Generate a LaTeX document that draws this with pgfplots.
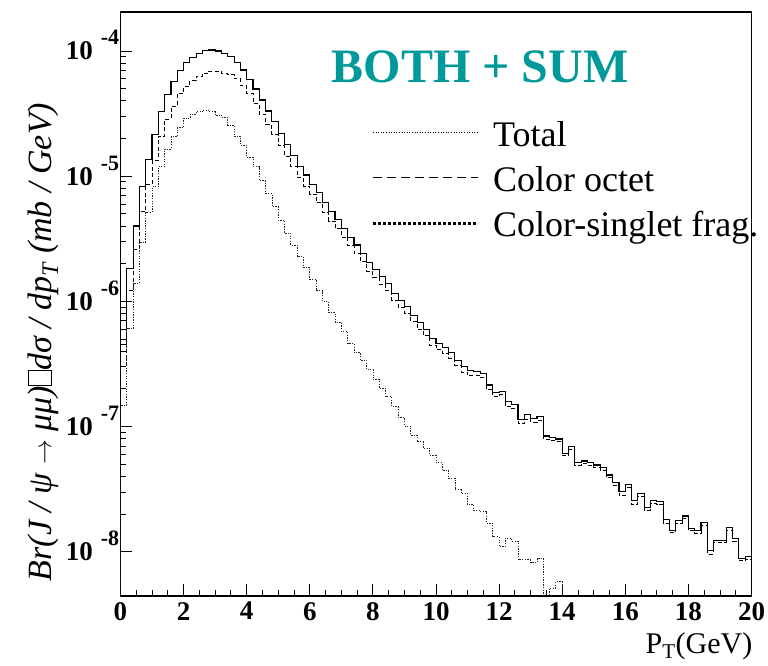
\documentclass[border=0pt]{standalone}
\usepackage{fontspec}
\setmainfont{Liberation Serif}
\usepackage{pgfplots}
\usepackage{pgfplotstable}
\pgfplotsset{compat=1.18}
\definecolor{rootteal}{RGB}{0,153,153}
\newcommand{\tenexp}[1]{\textbf{10}\rlap{\smash{\hspace{8pt}\raisebox{15pt}{\fontsize{22}{22}\selectfont\textbf{#1}}}}}
\newcommand{\boxchar}{{\setlength\fboxsep{0pt}\setlength\fboxrule{0.6pt}\fbox{\rule{0pt}{0.68em}\rule{0.42em}{0pt}}}}
\pgfplotstableread{
x s o d
0 1e-10 1e-10 1e-10
0 4.5e-7 3.0e-7 1.48e-7
0.2 1.82e-6 1.217e-6 6.03e-7
0.4 4.00e-6 2.60e-6 1.40e-6
0.6 8.24e-6 5.26e-6 2.98e-6
0.8 1.371e-5 8.59e-6 5.12e-6
1.0 2.163e-5 1.339e-5 8.24e-6
1.2 3.273e-5 2.082e-5 1.191e-5
1.4 4.508e-5 2.86e-5 1.648e-5
1.6 5.689e-5 3.62e-5 2.07e-5
1.8 7.047e-5 4.61e-5 2.44e-5
2.0 8.07e-5 5.17e-5 2.90e-5
2.2 8.91e-5 5.77e-5 3.14e-5
2.4 9.57e-5 6.30e-5 3.27e-5
2.6 1.005e-4 6.67e-5 3.38e-5
2.8 1.019e-4 6.92e-5 3.27e-5
3.0 1.000e-4 6.92e-5 3.08e-5
3.2 9.57e-5 6.62e-5 2.95e-5
3.4 9.02e-5 6.46e-5 2.56e-5
3.6 8.11e-5 6.02e-5 2.09e-5
3.8 7.05e-5 5.28e-5 1.77e-5
4.0 5.97e-5 4.55e-5 1.416e-5
4.2 4.97e-5 3.78e-5 1.191e-5
4.4 4.06e-5 3.14e-5 9.20e-6
4.6 3.32e-5 2.59e-5 7.29e-6
4.8 2.72e-5 2.15e-5 5.70e-6
5.0 2.20e-5 1.753e-5 4.47e-6
5.2 1.80e-5 1.45e-5 3.50e-6
5.4 1.476e-5 1.194e-5 2.82e-6
5.6 1.205e-5 9.77e-6 2.28e-6
5.8 1.023e-5 8.36e-6 1.87e-6
6.0 8.65e-6 7.15e-6 1.50e-6
6.2 7.38e-6 6.16e-6 1.22e-6
6.4 6.14e-6 5.15e-6 9.95e-7
6.6 5.20e-6 4.39e-6 8.13e-7
6.8 4.53e-6 3.85e-6 6.81e-7
7.0 3.84e-6 3.27e-6 5.73e-7
7.2 3.25e-6 2.79e-6 4.62e-7
7.4 2.82e-6 2.43e-6 3.89e-7
7.6 2.42e-6 2.08e-6 3.40e-7
7.8 2.04e-6 1.75e-6 2.86e-7
8.0 1.80e-6 1.56e-6 2.36e-7
8.2 1.574e-6 1.37e-6 2.02e-7
8.4 1.396e-6 1.22e-6 1.73e-7
8.6 1.161e-6 1.02e-6 1.44e-7
8.8 1.014e-6 8.95e-7 1.19e-7
9.0 9.08e-7 8.07e-7 1.01e-7
9.2 7.78e-7 6.92e-7 8.57e-8
9.4 6.76e-7 6.00e-7 7.57e-8
9.6 5.98e-7 5.31e-7 6.71e-8
9.8 5.07e-7 4.48e-7 5.89e-8
10.0 4.62e-7 4.11e-7 5.13e-8
10.2 4.30e-7 3.85e-7 4.47e-8
10.4 3.89e-7 3.50e-7 3.86e-8
10.6 3.39e-7 3.08e-7 3.12e-8
10.8 3.02e-7 2.73e-7 2.93e-8
11.0 2.79e-7 2.55e-7 2.37e-8
11.2 2.75e-7 2.54e-7 2.13e-8
11.4 2.67e-7 2.46e-7 2.09e-8
11.6 2.15e-7 1.98e-7 1.69e-8
11.8 1.87e-7 1.74e-7 1.32e-8
12.0 1.90e-7 1.79e-7 1.10e-8
12.2 1.58e-7 1.45e-7 1.28e-8
12.4 1.51e-7 1.39e-7 1.21e-8
12.6 1.14e-7 1.05e-7 8.61e-9
12.8 1.24e-7 1.15e-7 8.61e-9
13.0 1.16e-7 1.08e-7 8.18e-9
13.2 1.20e-7 1.11e-7 8.87e-9
13.4 8.41e-8 7.9e-8 3.5e-9
13.6 8.15e-8 7.8e-8 5.13e-9
13.8 7.96e-8 7.6e-8 5.75e-9
14.0 6.12e-8 5.85e-8 1e-10
14.2 6.92e-8 6.6e-8 1e-10
14.4 5.15e-8 4.9e-8 1e-10
14.6 5.31e-8 5.05e-8 1e-10
14.8 5.15e-8 4.9e-8 1e-10
15.0 4.93e-8 4.7e-8 1e-10
15.2 4.73e-8 4.5e-8 1e-10
15.4 4.10e-8 3.9e-8 1e-10
15.6 3.56e-8 3.4e-8 1e-10
15.8 3.02e-8 2.8e-8 1e-10
16.0 3.42e-8 3.25e-8 1e-10
16.2 2.56e-8 2.38e-8 1e-10
16.4 2.90e-8 2.76e-8 1e-10
16.6 2.26e-8 2.15e-8 1e-10
16.8 2.56e-8 2.43e-8 1e-10
17.0 2.51e-8 2.4e-8 1e-10
17.2 1.82e-8 1.68e-8 1e-10
17.4 1.49e-8 1.42e-8 1e-10
17.6 1.77e-8 1.68e-8 1e-10
17.8 1.93e-8 1.83e-8 1e-10
18.0 1.54e-8 1.47e-8 1e-10
18.2 1.48e-8 1.41e-8 1e-10
18.4 1.71e-8 1.63e-8 1e-10
18.6 1.03e-8 9.6e-9 1e-10
18.8 1.24e-8 1.18e-8 1e-10
19.0 1.24e-8 1.18e-8 1e-10
19.2 1.56e-8 1.49e-8 1e-10
19.4 1.28e-8 1.21e-8 1e-10
19.6 8.87e-9 8.45e-9 1e-10
19.8 9.14e-9 8.7e-9 1e-10
20 9.14e-9 8.7e-9 1e-10
20 1e-10 1e-10 1e-10
}\histdata
\begin{document}
\begin{tikzpicture}
\begin{axis}[
  scale only axis, width=631pt, height=584pt,
  xmin=0, xmax=20, ymode=log, ymin=4.43e-9, ymax=2.05e-4,
  xtick={0,2,...,20}, minor x tick num=3,
  ytick={1e-8,1e-7,1e-6,1e-5,1e-4},
  yticklabels={\tenexp{-8},\tenexp{-7},\tenexp{-6},\tenexp{-5},\tenexp{-4}},
  tick align=inside, tick pos=left,
  major tick length=12pt, minor tick length=6pt,
  tick style={black, line width=0.9pt},
  axis line style={line width=1.1pt},
  /pgf/number format/assume math mode=true,
  xticklabel style={font=\bfseries\fontsize{27}{27}\selectfont, inner sep=0pt, yshift=-6pt},
  yticklabel style={font=\bfseries\fontsize{27}{27}\selectfont, inner sep=0pt, anchor=east, xshift=-27.5pt},
]
\addplot[const plot, black, line width=1.1pt] table[x=x, y=s] {\histdata};
\addplot[const plot, black, line width=0.9pt, dash pattern=on 4pt off 2.5pt] table[x=x, y=o] {\histdata};
\addplot[const plot, black!85, line width=0.8pt, dash pattern=on 1.3pt off 1.3pt] table[x=x, y=d] {\histdata};
\end{axis}
% legend
\draw[black, line width=0.8pt, dash pattern=on 1pt off 1.6pt] ([shift={(252.5pt,-120.3pt)}]current axis.north west) -- ++(105pt,0pt);
\draw[black, line width=0.9pt, dash pattern=on 9pt off 5pt] ([shift={(252.5pt,-165.3pt)}]current axis.north west) -- ++(105pt,0pt);
\draw[black, line width=2.5pt, dash pattern=on 3pt off 2pt] ([shift={(252.5pt,-211.3pt)}]current axis.north west) -- ++(105pt,0pt);
\node[anchor=base west, inner sep=0pt, font=\fontsize{36}{36}\selectfont] at ([shift={(372.5pt,-134.7pt)}]current axis.north west) {Total};
\node[anchor=base west, inner sep=0pt, font=\fontsize{36}{36}\selectfont] at ([shift={(372.5pt,-179.7pt)}]current axis.north west) {Color octet};
\node[anchor=base west, inner sep=0pt, font=\fontsize{36}{36}\selectfont] at ([shift={(372.5pt,-224.7pt)}]current axis.north west) {Color-singlet frag.};
\node[anchor=base, font=\bfseries\fontsize{48}{48}\selectfont, text=rootteal] at ([xshift=359.5pt, yshift=-71pt]current axis.north west) {BOTH + SUM};
\node[rotate=90, anchor=center, font=\itshape\fontsize{34}{34}\selectfont, inner sep=0pt] at ([xshift=-77.5pt, yshift=254pt]current axis.south west) {Br(J / ψ {\upshape$\rightarrow$} μμ)\boxchar dσ / dp\textsubscript{T} (mb / GeV)};
\node[anchor=base east, font=\fontsize{30}{30}\selectfont, inner sep=0pt] at ([xshift=1pt, yshift=-57pt]current axis.south east) {P\textsubscript{T}(GeV)};
\pgfresetboundingbox
\path[use as bounding box] ([shift={(-120.5pt,-69pt)}]current axis.south west) rectangle ([shift={(16.5pt,12pt)}]current axis.north east);
\end{tikzpicture}
\end{document}
